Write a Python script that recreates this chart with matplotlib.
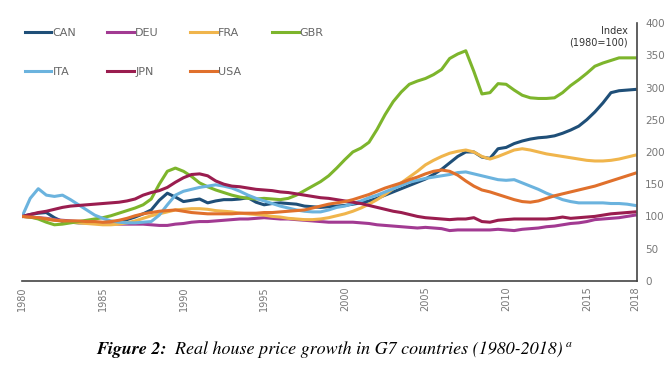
import numpy as np
import matplotlib
matplotlib.use("Agg")
import matplotlib.pyplot as plt

# --- half-yearly index values, 1980 = 100 ---
years = np.arange(1980, 2018.01, 0.5)

can = [100, 103, 105, 106, 98, 92, 91, 90, 90, 90,
       90, 91, 92, 95, 99, 104, 110, 125, 136, 130,
       123, 125, 127, 121, 124, 126, 126, 127, 129, 122,
       118, 120, 121, 120, 119, 116, 115, 114, 115, 116,
       117, 119, 121, 124, 128, 133, 138, 143, 148, 153,
       158, 165, 173, 183, 193, 200, 200, 192, 190, 205,
       207, 213, 217, 220, 222, 223, 225, 229, 234, 240,
       250, 262, 276, 292, 295, 296, 297]
deu = [100, 99, 98, 97, 95, 94, 93, 92, 91, 90,
       89, 89, 88, 88, 88, 88, 87, 86, 86, 88,
       89, 91, 92, 92, 93, 94, 95, 96, 96, 97,
       98, 97, 96, 96, 95, 94, 93, 92, 91, 91,
       91, 91, 90, 89, 87, 86, 85, 84, 83, 82,
       83, 82, 81, 78, 79, 79, 79, 79, 79, 80,
       79, 78, 80, 81, 82, 84, 85, 87, 89, 90,
       92, 95, 96, 97, 98, 100, 102]
fra = [100, 99, 97, 96, 94, 93, 91, 90, 89, 88,
       87, 87, 88, 90, 93, 97, 101, 104, 107, 110,
       111, 112, 112, 111, 109, 108, 107, 105, 104, 103,
       102, 100, 99, 97, 96, 95, 95, 96, 98, 101,
       104, 108, 113, 119, 126, 134, 143, 152, 161, 170,
       180, 187, 193, 198, 201, 203, 200, 193, 189, 193,
       198, 203, 205, 203, 200, 197, 195, 193, 191, 189,
       187, 186, 186, 187, 189, 192, 195]
gbr = [100, 99, 96, 91, 87, 88, 90, 92, 94, 96,
       98, 101, 105, 109, 113, 118, 127, 150, 170, 175,
       170, 162, 152, 146, 141, 137, 133, 130, 128, 127,
       128, 127, 126, 128, 133, 140, 147, 154, 163, 175,
       188, 200, 206, 215, 235, 258, 278, 293, 305, 310,
       314, 320, 328, 345, 352, 357, 325, 290, 292, 306,
       305, 296, 288, 284, 283, 283, 284, 292, 303, 312,
       322, 333, 338, 342, 346, 346, 346]
ita = [100, 128, 143, 133, 131, 133, 126, 118, 110, 102,
       97, 93, 91, 90, 90, 91, 92, 102, 118, 133,
       139, 142, 145, 147, 149, 147, 144, 139, 133, 128,
       124, 120, 116, 113, 110, 108, 107, 107, 110, 114,
       116, 120, 124, 129, 133, 138, 143, 148, 153, 156,
       159, 161, 163, 165, 168, 169, 166, 163, 160, 157,
       156, 157, 152, 147, 142, 136, 131, 126, 123, 121,
       121, 121, 121, 120, 120, 119, 117]
jpn = [100, 103, 106, 108, 111, 114, 116, 117, 118, 119,
       120, 121, 122, 124, 127, 133, 137, 140, 145, 153,
       160, 165, 166, 163, 155, 150, 147, 146, 144, 142,
       141, 140, 138, 137, 135, 133, 131, 129, 128, 126,
       124, 122, 120, 117, 114, 111, 108, 106, 103, 100,
       98, 97, 96, 95, 96, 96, 98, 92, 91, 94,
       95, 96, 96, 96, 96, 96, 97, 99, 97, 98,
       99, 100, 102, 104, 105, 106, 107]
usa = [100, 99, 98, 96, 94, 93, 93, 93, 92, 92,
       91, 92, 94, 97, 101, 104, 106, 108, 109, 110,
       108, 106, 105, 104, 104, 104, 104, 105, 105, 105,
       106, 106, 107, 108, 109, 110, 113, 116, 119, 121,
       123, 126, 130, 134, 139, 144, 148, 152, 157, 161,
       166, 170, 172, 170, 164, 155, 147, 141, 138, 134,
       130, 126, 123, 122, 124, 128, 132, 135, 138, 141,
       144, 147, 151, 155, 159, 163, 167]

series = {
    "CAN": (can, "#1f4f78"),
    "DEU": (deu, "#a23a92"),
    "FRA": (fra, "#f0b54c"),
    "GBR": (gbr, "#7db52c"),
    "ITA": (ita, "#6bb3de"),
    "JPN": (jpn, "#9a1d4f"),
    "USA": (usa, "#e0702c"),
}

xticks = [1980, 1985, 1990, 1995, 2000, 2005, 2010, 2015, 2018]
yticks = list(range(0, 401, 50))

fig = plt.figure(figsize=(6.71, 3.78), dpi=100)
ax = fig.add_axes([0.033, 0.257, 0.916, 0.682])

lines = {}
for name, (vals, col) in series.items():
    lines[name], = ax.plot(years, vals, color=col, lw=2.2, label=name,
                           solid_joinstyle="round")

ax.set_xlim(1980, 2018.1)
ax.set_ylim(0, 400)
ax.set_xticks(xticks)
ax.set_xticklabels([str(y) for y in xticks], rotation=90)
ax.set_yticks(yticks)
ax.yaxis.tick_right()
ax.tick_params(axis="both", length=0, labelsize=7, labelcolor="#777777")
ax.tick_params(axis="y", pad=6, labelsize=7.5)
ax.tick_params(axis="x", pad=4)
for s in ["left", "top"]:
    ax.spines[s].set_visible(False)
for s in ["bottom", "right"]:
    ax.spines[s].set_color("#444444")
    ax.spines[s].set_linewidth(1.2)

ax.text(0.985, 0.99, "Index\n(1980=100)", transform=ax.transAxes,
        ha="right", va="top", fontsize=7, color="#333333",
        multialignment="right", linespacing=1.2)

# legend in row order: CAN DEU FRA GBR / ITA JPN USA
order = ["CAN", "ITA", "DEU", "JPN", "FRA", "USA", "GBR"]
ax.legend([lines[k] for k in order], order, ncol=4, frameon=False,
          loc="upper left", bbox_to_anchor=(0.037, 0.925),
          bbox_transform=fig.transFigure, fontsize=8,
          handlelength=2.4, handletextpad=0.1, columnspacing=2.8,
          labelspacing=2.55, borderpad=0, borderaxespad=0,
          labelcolor="#666666")

# caption below the chart
t1 = fig.text(0.143, 0.074, "Figure 2:", family="STIXGeneral",
              style="italic", weight="bold", fontsize=13, va="center")
a2 = ax.annotate("  Real house price growth in G7 countries (1980-2018)",
                 xy=(1, 0), xycoords=t1, va="bottom", ha="left",
                 family="STIXGeneral", style="italic", fontsize=13,
                 annotation_clip=False)
a3 = ax.annotate(" a", xy=(1, 0.55), xycoords=a2, va="bottom", ha="left",
                 family="STIXGeneral", style="italic", fontsize=8.5,
                 annotation_clip=False)

fig.savefig("out.png", dpi=100)
